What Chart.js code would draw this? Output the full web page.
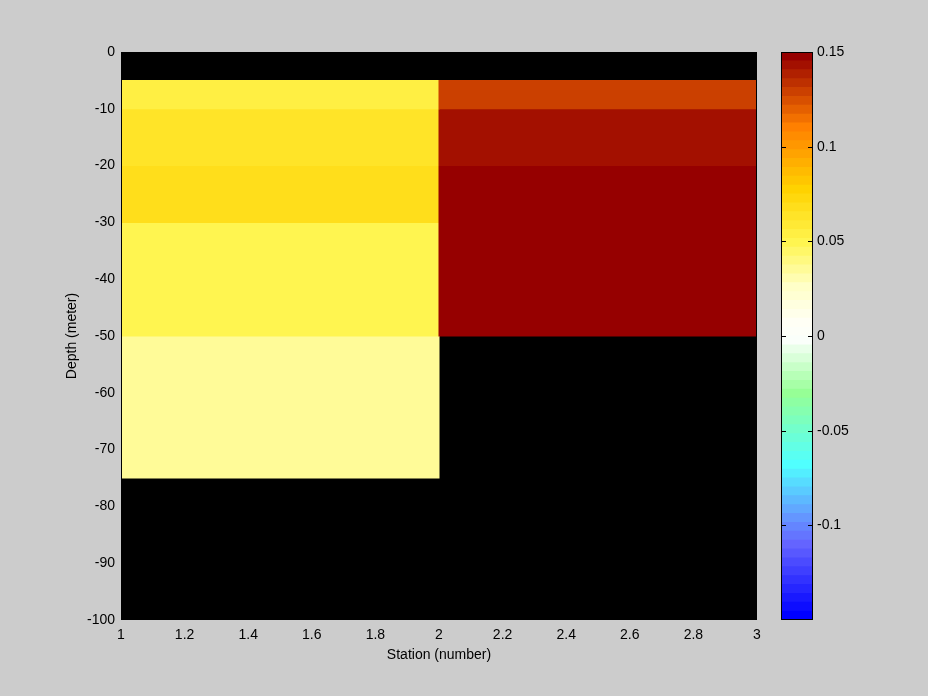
<!DOCTYPE html>
<html>
<head>
<meta charset="utf-8">
<script src="https://cdn.jsdelivr.net/npm/chart.js@4.4.0/dist/chart.umd.min.js"></script>
<style>
  html, body { margin: 0; padding: 0; background: #cccccc; }
  #wrap { position: relative; width: 928px; height: 696px; }
  canvas { position: absolute; left: 0; top: 0; }
</style>
</head>
<body>
<div id="wrap">
  <canvas id="main" width="928" height="696"></canvas>
  <canvas id="cbar" width="928" height="696"></canvas>
</div>
<script>
// cells: station columns (centres) and depth layers
const stationCenters = [1.5, 2.5];
const depthTop = [-5, -10, -20, -30, -50];
const depthBottom = [-10, -20, -30, -50, -75];
const station1Values = [0.054, 0.063, 0.068, 0.050, 0.035];
const station2Values = [0.129, 0.143, 0.150, 0.150, null];

const xTicks = [1, 1.2, 1.4, 1.6, 1.8, 2, 2.2, 2.4, 2.6, 2.8, 3];
const yTicks = [-100, -90, -80, -70, -60, -50, -40, -30, -20, -10, 0];
const cbarTicks = [-0.1, -0.05, 0, 0.05, 0.1, 0.15];
const climMin = -0.15;
const climMax = 0.15;

// colormap anchors (band index -> colour), 64 bands
const cmapIndex = [0, 8, 11, 17, 25, 31, 33, 37, 42, 48, 55, 63];
const cmapColors = [
  [0, 0, 255], [100, 100, 255], [100, 150, 255], [80, 255, 255],
  [150, 255, 150], [250, 255, 250], [255, 255, 245], [255, 255, 200],
  [255, 245, 80], [255, 210, 0], [255, 128, 0], [150, 0, 0]
];
const nBands = 64;

function buildColormap() {
  const out = [];
  for (let i = 0; i < nBands; i++) {
    let k = 0;
    while (k < cmapIndex.length - 2 && i > cmapIndex[k + 1]) k++;
    const t = (i - cmapIndex[k]) / (cmapIndex[k + 1] - cmapIndex[k]);
    const a = cmapColors[k], b = cmapColors[k + 1];
    const c = a.map((v, j) => Math.round(v + (b[j] - v) * t));
    out.push(`rgb(${c[0]}, ${c[1]}, ${c[2]})`);
  }
  return out;
}
const cmap = buildColormap();

function colorFor(v) {
  let idx = Math.floor((v - climMin) / (climMax - climMin) * nBands);
  idx = Math.max(0, Math.min(nBands - 1, idx));
  return cmap[idx];
}

function fmt(v) {
  return String(Math.round(v * 1000) / 1000);
}

Chart.defaults.font.family = '"Liberation Sans", Arial, sans-serif';
Chart.defaults.font.size = 14;
Chart.defaults.color = '#000';

const boxPlugin = {
  id: 'box',
  beforeDatasetsDraw(chart, args, opts) {
    const a = chart.chartArea;
    const ctx = chart.ctx;
    if (opts.fill) {
      ctx.save();
      ctx.fillStyle = opts.fill;
      ctx.fillRect(a.left, a.top, a.right - a.left, a.bottom - a.top);
      ctx.restore();
    }
  },
  afterDatasetsDraw(chart, args, opts) {
    const a = chart.chartArea;
    const ctx = chart.ctx;
    ctx.save();
    ctx.strokeStyle = '#000';
    ctx.lineWidth = 1;
    ctx.strokeRect(Math.round(a.left) + 0.5, Math.round(a.top) + 0.5,
      Math.round(a.right - a.left) - 1, Math.round(a.bottom - a.top) - 1);
    if (opts.tickScale) {
      const sc = chart.scales[opts.tickScale];
      sc.ticks.forEach(t => {
        const y = Math.round(sc.getPixelForValue(t.value)) + 0.5;
        if (y <= a.top + 1 || y >= a.bottom - 1) return;
        ctx.beginPath();
        ctx.moveTo(a.left, y); ctx.lineTo(a.left + 5, y);
        ctx.moveTo(a.right - 5, y); ctx.lineTo(a.right, y);
        ctx.stroke();
      });
    }
    ctx.restore();
  }
};

// one dataset per depth layer, all sharing one slot so each cell spans its station interval
const rowDatasets = depthTop.map((top, r) => {
  const vals = [station1Values[r], station2Values[r]];
  return {
    label: 'layer ' + r,
    stack: 'cells',
    data: stationCenters.map((x, c) => ({ x, y: vals[c] == null ? null : [top, depthBottom[r]] })),
    backgroundColor: vals.map(v => v == null ? 'rgba(0,0,0,0)' : colorFor(v)),
    borderWidth: 0,
    barPercentage: 1,
    categoryPercentage: 1,
    barThickness: 'flex',
    inflateAmount: 0.5
  };
});

new Chart(document.getElementById('main'), {
  type: 'bar',
  data: { datasets: rowDatasets },
  plugins: [boxPlugin],
  options: {
    responsive: false,
    animation: false,
    layout: { padding: { left: 60, top: 52, right: 171, bottom: 28 } },
    plugins: {
      legend: { display: false },
      tooltip: { enabled: false },
      box: { fill: '#000' }
    },
    scales: {
      x: {
        type: 'linear',
        min: 1, max: 3,
        offset: false,
        grid: { display: false, drawTicks: false },
        border: { display: false },
        afterBuildTicks: s => { s.ticks = xTicks.map(v => ({ value: v })); },
        afterFit: s => { s.height = 48; },
        ticks: { padding: 7, maxRotation: 0, autoSkip: false, callback: v => fmt(v) },
        title: { display: true, text: 'Station (number)', padding: { top: 4, bottom: 4 } }
      },
      y: {
        type: 'linear',
        min: -100, max: 0,
        stacked: false,
        grid: { display: false, drawTicks: false },
        border: { display: false },
        afterBuildTicks: s => { s.ticks = yTicks.map(v => ({ value: v })); },
        afterFit: s => { s.width = 61; },
        ticks: { padding: 6, autoSkip: false, callback: v => fmt(v) },
        title: { display: true, text: 'Depth (meter)', padding: { top: 4, bottom: 4 } }
      }
    }
  }
});

// colour bar
const step = (climMax - climMin) / nBands;
const cbarDatasets = cmap.map((c, i) => ({
  data: [[climMin + i * step, climMin + (i + 1) * step]],
  backgroundColor: c,
  borderWidth: 0,
  barPercentage: 1,
  categoryPercentage: 1,
  grouped: false,
  inflateAmount: 0.5
}));

new Chart(document.getElementById('cbar'), {
  type: 'bar',
  data: { labels: [''], datasets: cbarDatasets },
  plugins: [boxPlugin],
  options: {
    responsive: false,
    animation: false,
    layout: { padding: { left: 781, top: 52, right: 55, bottom: 76 } },
    plugins: {
      legend: { display: false },
      tooltip: { enabled: false },
      box: { tickScale: 'y' }
    },
    scales: {
      x: { display: false },
      y: {
        type: 'linear',
        position: 'right',
        min: climMin, max: climMax,
        grid: { display: false, drawTicks: false },
        border: { display: false },
        afterBuildTicks: s => { s.ticks = cbarTicks.map(v => ({ value: v })); },
        afterFit: s => { s.width = 60; },
        ticks: { padding: 4, autoSkip: false, callback: v => fmt(v) }
      }
    }
  }
});
</script>
</body>
</html>
